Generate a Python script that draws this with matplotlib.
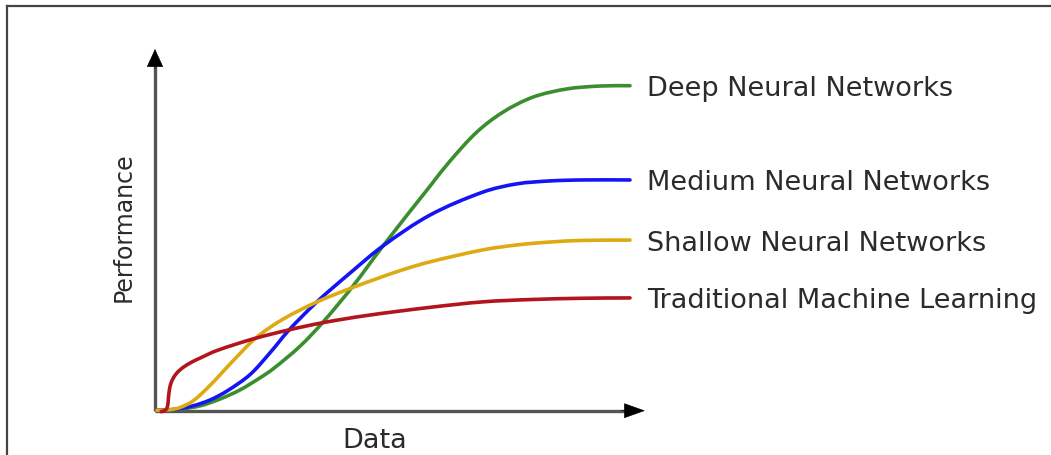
import math
import matplotlib
matplotlib.use("Agg")
import matplotlib.pyplot as plt
from matplotlib.lines import Line2D
from matplotlib.path import Path
from matplotlib.patches import PathPatch

plt.rcParams['font.family'] = ['DejaVu Sans']

# ---- data (arbitrary units 0-100) ----
series_names = ["Deep Neural Networks", "Medium Neural Networks",
                "Shallow Neural Networks", "Traditional Machine Learning"]

deep_x = [0.4, 5.3, 9.5, 13.7, 17.9, 22.1, 24.8, 30.5, 35.4, 41.7, 48.0,
          57.9, 62.1, 67.8, 73.3, 79.6, 86.7, 93.7, 100]
deep_y = [0.1, 0.5, 1.5, 3.6, 6.4, 10.1, 12.8, 19.8, 27.3, 38.4, 50.7,
          69.1, 76.8, 85.8, 91.9, 96.5, 99.0, 99.9, 100]

medium_x = [0.4, 4.2, 8.0, 11.6, 15.2, 20.0, 24.2, 28.2, 34.1, 41.1, 48.0,
            57.9, 69.1, 76.2, 83.2, 90.1, 100]
medium_y = [0.1, 0.4, 1.5, 3.3, 6.1, 11.1, 17.8, 24.8, 33.5, 42.4, 50.7,
            60.2, 67.3, 69.8, 70.7, 71.0, 71.0]

shallow_x = [0.4, 3.2, 5.3, 8.0, 11.6, 16.4, 21.4, 27.0, 34.0, 41.8, 51.6,
             57.9, 69.1, 76.2, 83.2, 90.1, 100]
shallow_y = [0.1, 0.3, 1.0, 3.0, 7.8, 15.3, 22.6, 28.2, 33.4, 38.0, 43.1,
             45.8, 49.5, 51.0, 51.9, 52.4, 52.5]

trad_x = [1.3, 2.1, 2.6, 2.8, 3.0, 3.3, 3.8, 4.6, 5.9, 7.8, 9.5, 13.0, 20.7,
          28.0, 35.4, 44.6, 57.9, 69.1, 79.0, 90.1, 100]
trad_y = [-0.3, 0.1, 1.1, 3.6, 6.1, 8.2, 9.9, 11.6, 13.3, 15.0, 16.2, 18.5,
          22.1, 24.8, 27.1, 29.3, 31.8, 33.5, 34.2, 34.6, 34.7]

colors = ["#3b8e2e", "#1414f5", "#deaa12", "#b2151c"]
x_label = "Data"
y_label = "Performance"

# ---- figure ----
W, H = 1051, 456
fig = plt.figure(figsize=(W / 100, H / 100), dpi=100)
ax = fig.add_axes([0, 0, 1, 1])
# origin at (155, 411.7) px, 4.75 px per x unit, 3.25 px per y unit
x0, y0, sx, sy = 155.0, 411.7, 4.75, 3.25
ax.set_xlim(-x0 / sx, (W - x0) / sx)
ax.set_ylim(-(H - y0) / sy, y0 / sy)
ax.axis('off')


def smooth_path(xs, ys):
    """Chord-length Catmull-Rom curve through the read points (cubic Beziers)."""
    n = len(xs)
    t = [0.0]
    for i in range(1, n):
        d = math.hypot((xs[i] - xs[i - 1]) * sx, (ys[i] - ys[i - 1]) * sy)
        t.append(t[-1] + max(d, 1e-6))
    mx, my = [], []
    for i in range(n):
        a = max(i - 1, 0)
        b = min(i + 1, n - 1)
        dt = t[b] - t[a]
        mx.append((xs[b] - xs[a]) / dt)
        my.append((ys[b] - ys[a]) / dt)
    verts = [(xs[0], ys[0])]
    codes = [Path.MOVETO]
    for i in range(n - 1):
        h = (t[i + 1] - t[i]) / 3
        verts += [(xs[i] + mx[i] * h, ys[i] + my[i] * h),
                  (xs[i + 1] - mx[i + 1] * h, ys[i + 1] - my[i + 1] * h),
                  (xs[i + 1], ys[i + 1])]
        codes += [Path.CURVE4] * 3
    return Path(verts, codes)


# axes with arrows
x_tip = (645 - x0) / sx
y_tip = (y0 - 50) / sy
ax.plot([0, x_tip - 3], [0, 0], color="#555555", lw=2.4, solid_capstyle='butt', zorder=2)
ax.plot([0, 0], [0, y_tip - 4], color="#555555", lw=2.4, solid_capstyle='butt', zorder=2)
ax.annotate('', xy=(x_tip, 0), xytext=(x_tip - 5, 0),
            arrowprops=dict(arrowstyle='-|>,head_length=14,head_width=5',
                            mutation_scale=1, color='black', lw=0.5,
                            shrinkA=0, shrinkB=0), zorder=3)
ax.annotate('', xy=(0, y_tip), xytext=(0, y_tip - 6),
            arrowprops=dict(arrowstyle='-|>,head_length=12,head_width=5.5',
                            mutation_scale=1, color='black', lw=0.5,
                            shrinkA=0, shrinkB=0), zorder=3)

# curves
all_x = [deep_x, medium_x, shallow_x, trad_x]
all_y = [deep_y, medium_y, shallow_y, trad_y]
for xs, ys, c in zip(all_x, all_y, colors):
    ax.add_patch(PathPatch(smooth_path(xs, ys), facecolor='none', edgecolor=c,
                           lw=2.6, capstyle='round', joinstyle='round', zorder=4))

# end labels (baseline ~9.5 px below the curve end)
for ys, name in zip(all_y, series_names):
    ax.text((647 - x0) / sx, ys[-1] - 9.5 / sy, name, fontsize=19.5,
            color="#2b2b2b", ha='left', va='baseline')

ax.text((375 - x0) / sx, (y0 - 448) / sy, x_label, fontsize=19.5,
        color="#2b2b2b", ha='center', va='baseline')
ax.text((131 - x0) / sx, (y0 - 227.5) / sy, y_label, fontsize=17,
        color="#2b2b2b", ha='center', va='baseline', rotation=90,
        rotation_mode='anchor')

# image frame (left and top)
fig.add_artist(Line2D([6.5 / W, 6.5 / W], [0, 1 - 7 / H], color="#444444", lw=1.6))
fig.add_artist(Line2D([6.5 / W, 1], [1 - 7 / H, 1 - 7 / H], color="#444444", lw=1.6))

fig.savefig("out.png", dpi=100)
